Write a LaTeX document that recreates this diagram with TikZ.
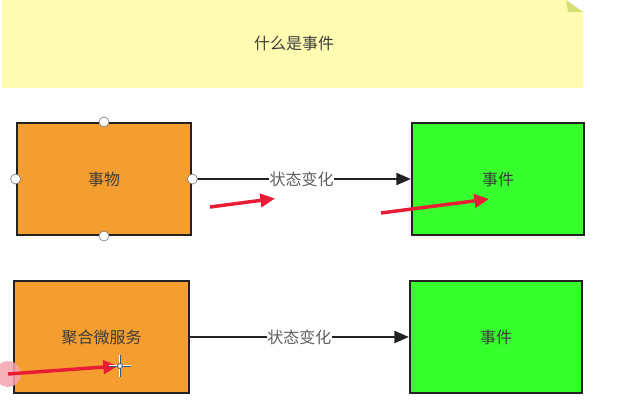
\documentclass[tikz,border=0pt]{standalone}
\usepackage{fontspec}
\setmainfont{Noto Sans CJK SC}
\usetikzlibrary{arrows.meta}
\definecolor{notey}{RGB}{255,252,178}
\definecolor{notefold}{RGB}{214,222,120}
\definecolor{orangebox}{RGB}{245,158,48}
\definecolor{greenbox}{RGB}{55,255,45}
\definecolor{boxline}{RGB}{34,34,34}
\definecolor{txt}{RGB}{60,60,60}
\definecolor{lbl}{RGB}{95,95,95}
\definecolor{annred}{RGB}{232,28,52}
\definecolor{cursorblue}{RGB}{40,90,130}
\tikzset{
  obox/.style={draw=boxline, line width=1.6pt, fill=orangebox, minimum width=131pt, minimum height=84pt, inner sep=0pt, font=\fontsize{12}{14}\selectfont, text=txt},
  gbox/.style={draw=boxline, line width=1.6pt, fill=greenbox, minimum width=129pt, minimum height=84pt, inner sep=0pt, font=\fontsize{12}{14}\selectfont, text=txt},
  conn/.style={draw=boxline, line width=1.8pt, -{Triangle[length=11pt,width=9pt]}},
  clabel/.style={fill=white, text=lbl, font=\fontsize{12}{14}\selectfont, inner sep=0.5pt},
  handle/.style={circle, draw=gray, fill=white, line width=0.5pt, minimum size=7.5pt, inner sep=0pt},
  redarrow/.style={draw=annred, line width=2.6pt, -{Triangle[length=11pt,width=10pt]}}
}
\begin{document}
\begin{tikzpicture}[x=0.75pt,y=-0.75pt]
\useasboundingbox[fill=white] (0,0) rectangle (617,404);
% note
\fill[notey] (2,0) -- (566,0) -- (583,12) -- (583,88) -- (2,88) -- cycle;
\fill[notefold] (566,0) -- (583,12) -- (568,12) -- cycle;
\node[font=\fontsize{12}{14}\selectfont, text=txt] (title) at (294,43) {什么是事件};
% row 1
\node[obox] (thing) at (104,179) {事物};
\node[gbox] (event1) at (498,179) {事件};
\draw[conn] (thing.east) -- node[clabel] {状态变化} (event1.west);
\node[handle] (h1) at (thing.north) {};
\node[handle] (h2) at (thing.south) {};
\node[handle] (h3) at (thing.west) {};
\node[handle] (h4) at (thing.east) {};
% row 2
\node[obox] (agg) at (101.5,337) {聚合微服务};
\node[gbox] (event2) at (496,337) {事件};
\draw[conn] (agg.east) -- node[clabel] {状态变化} (event2.west);
% annotations
\coordinate (a1s) at (210,207); \coordinate (a1e) at (275,198.5);
\coordinate (a2s) at (381,213); \coordinate (a2e) at (489,199);
\coordinate (a3s) at (8,374); \coordinate (a3e) at (118,366);
\fill[annred!40, opacity=0.85] (a3s) circle (13);
\draw[redarrow] (a1s) -- (a1e);
\draw[redarrow] (a2s) -- (a2e);
\draw[redarrow] (a3s) -- (a3e);
% cursor
\coordinate (cur) at (120,366);
\draw[white, line width=2pt] ([xshift=-8]cur) -- ([xshift=8]cur) ([yshift=-8]cur) -- ([yshift=8]cur);
\draw[cursorblue, line width=0.6pt] ([xshift=-8]cur) -- ([xshift=8]cur) ([yshift=-8]cur) -- ([yshift=8]cur);
\draw[fill=white, draw=cursorblue, line width=0.6pt] (cur) circle (2.5);
\end{tikzpicture}
\end{document}
